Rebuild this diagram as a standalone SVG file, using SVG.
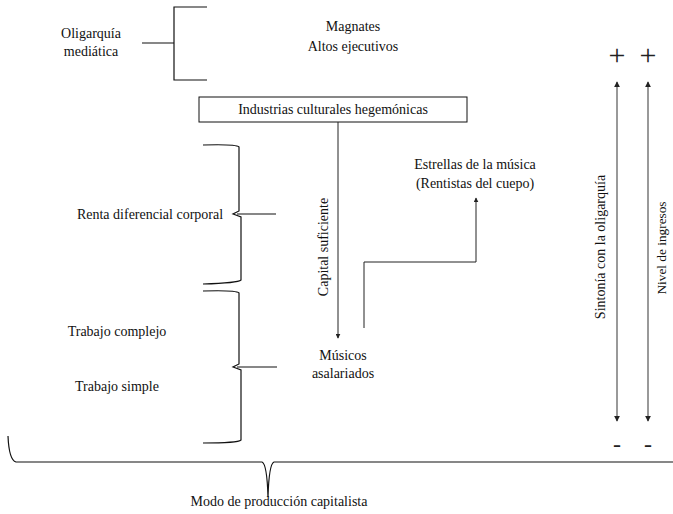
<svg xmlns="http://www.w3.org/2000/svg" width="673" height="514" viewBox="0 0 673 514" font-family="'Liberation Serif', 'DejaVu Serif', serif">
<defs>
<style>
text{font-family:'Liberation Serif','DejaVu Serif',serif;font-size:14px;fill:#111;text-anchor:middle}
.br{fill:none;stroke:#111;stroke-width:1.2}
.ln{fill:none;stroke:#222;stroke-width:1}
.gr{fill:none;stroke:#555;stroke-width:1.2}
text.sym{font-family:'Liberation Serif','DejaVu Serif',serif;font-size:30px;fill:#222}
text.neg{font-family:'Liberation Serif','DejaVu Serif',serif;font-size:24px;fill:#222}
</style>
<marker id="ah" viewBox="0 0 8 8" refX="7" refY="4" markerWidth="5" markerHeight="5" orient="auto-start-reverse">
<path d="M0 0 L8 4 L0 8 z" fill="#222"/>
</marker>
</defs>
<rect width="673" height="514" fill="#fff"/>

<g id="oligarquia">
<path class="br" d="M207 7 L174 7 L174 80 L207 80 M142 43 L174 43"/>
<text x="91" y="38">Oligarquía</text>
<text x="91" y="56">mediática</text>
</g>

<g id="magnates">
<text x="353" y="31">Magnates</text>
<text x="353" y="51">Altos ejecutivos</text>
</g>

<g id="industrias">
<rect x="199" y="97" width="268" height="25" fill="none" stroke="#111" stroke-width="1"/>
<text x="333" y="114">Industrias culturales hegemónicas</text>
</g>

<g id="renta">
<path class="br" d="M203 145 Q236 144 239 147 L239 211 L233 214 L241 217 L241 280 Q238 283 203 284 M237 214 L276 214"/>
<text x="150" y="219">Renta diferencial corporal</text>
</g>

<g id="trabajo">
<path class="br" d="M203 291 Q236 290 239 293 L239 364 L233 367 L241 370 L241 440 Q238 443 203 443 M237 367 L277 367"/>
<text x="117" y="336">Trabajo complejo</text>
<text x="117" y="391">Trabajo simple</text>
</g>

<g id="musicos">
<text x="343" y="360">Músicos</text>
<text x="343" y="378">asalariados</text>
</g>

<g id="estrellas">
<text x="475" y="169">Estrellas de la música</text>
<text x="475" y="188">(Rentistas del cuepo)</text>
</g>

<g id="sintonia">
<text class="sym" x="617" y="65">+</text>
<text class="neg" x="617" y="452">-</text>
<text transform="translate(605 247) rotate(-90)" style="font-size:14px">Sintonía con la oligarquía</text>
</g>

<g id="nivel">
<text class="sym" x="648" y="65">+</text>
<text class="neg" x="648" y="452">-</text>
<text transform="translate(666 248) rotate(-90)" style="font-size:13.3px">Nivel de ingresos</text>
</g>

<g id="modo">
<path class="br" d="M8 436 Q9 460 16 462 L262 462 Q267 464 268 497 Q269 464 274 462 L673 462"/>
<text x="279" y="506">Modo de producción capitalista</text>
</g>

<g id="connectors">
<line class="ln" x1="338" y1="122" x2="338" y2="338" marker-end="url(#ah)"/>
<text transform="translate(328 247) rotate(-90)">Capital suficiente</text>
<path class="ln" d="M364 328 L364 262 L476 262 L476 198" marker-end="url(#ah)"/>
<line class="gr" x1="617" y1="82" x2="617" y2="421" marker-start="url(#ah)" marker-end="url(#ah)"/>
<line class="gr" x1="648" y1="82" x2="648" y2="421" marker-start="url(#ah)" marker-end="url(#ah)"/>
</g>
</svg>
